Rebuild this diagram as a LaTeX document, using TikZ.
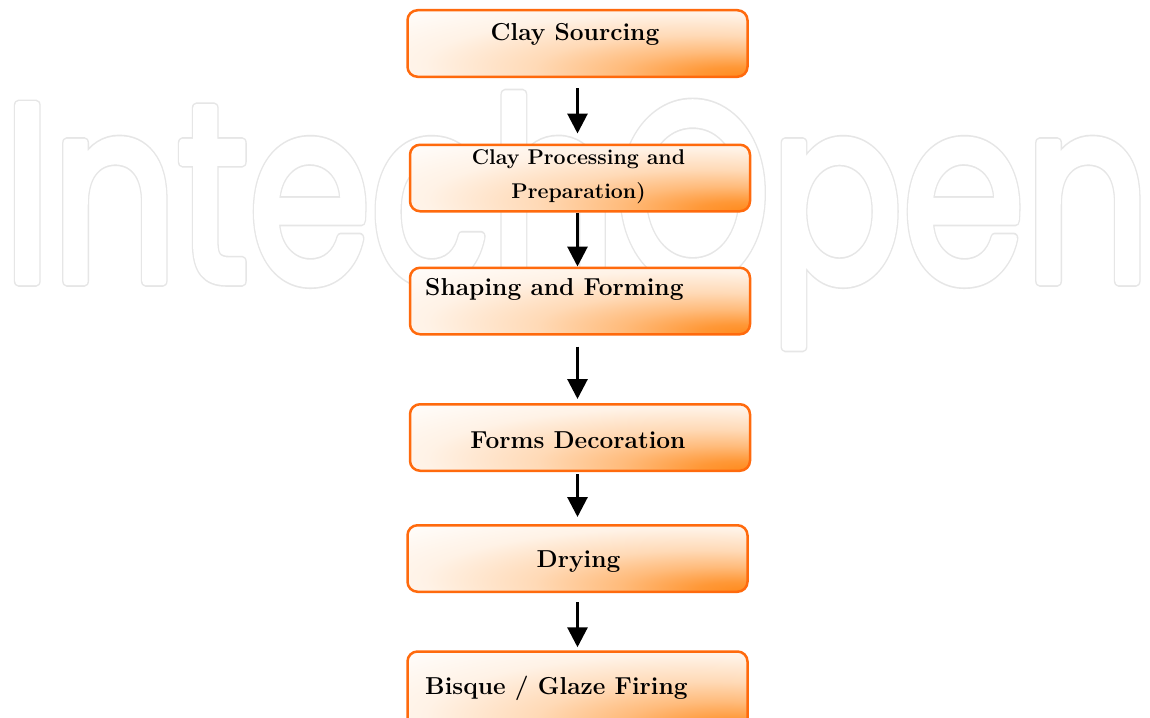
\documentclass[tikz,border=0pt]{standalone}
\usepackage{fontspec}
\newfontfamily\wmfont{Poppins}
\usetikzlibrary{arrows.meta,shadings,calc}
\definecolor{boxline}{HTML}{FF6A0D}
\definecolor{deeporange}{HTML}{FF8A1C}
\definecolor{wmgray}{HTML}{E6E6E6}
\pgfdeclareradialshading{boxshade}{\pgfpoint{25bp}{-25bp}}{%
  color(0bp)=(deeporange);
  color(6bp)=(deeporange!88!white);
  color(15bp)=(deeporange!58!white);
  color(25bp)=(deeporange!32!white);
  color(38bp)=(deeporange!11!white);
  color(50bp)=(deeporange!3!white);
  color(60bp)=(white);
  color(100bp)=(white)}
\newcommand{\lblfontsel}[1]{\fontsize{#1}{#1}\selectfont\bfseries\addfontfeatures{FakeBold=2}}
\tikzset{
  stagebox/.style={draw=boxline, line width=2.5pt, rounded corners=10pt,
    shading=boxshade, minimum width=340pt, minimum height=66.5pt, inner sep=0pt},
  lbl/.style={font=\lblfontsel{24.5}, inner sep=0pt},
  lblsmall/.style={font=\lblfontsel{21.3}, inner sep=0pt},
  arr/.style={draw=black, line width=3pt, -{Triangle[length=20pt,width=20pt]}},
  wm/.style={font=\wmfont\fontsize{252}{252}\selectfont, inner sep=0pt, anchor=base west}
}
\newcommand{\wmtext}{\resizebox{1147pt}{\height}{IntechOpen}}
\newcommand{\wmstroke}[1]{\special{pdf:code 2 Tr #1 w 1 j 1 J}\wmtext\special{pdf:code 0 Tr}}
\begin{document}
\begin{tikzpicture}[x=1pt,y=-1pt]
\useasboundingbox (0,0) rectangle (1150,717);
\fill[white] (0,0) rectangle (1150,717);
% watermark (outlined letters)
\node[wm, text=wmgray] (wmout) at (3,281) {\wmstroke{11.5}};
\node[wm, text=white] (wmin) at (3,281) {\wmstroke{8.2}};
% boxes
\node[stagebox] (b1) at (577.5,43.5) {};
\node[stagebox] (b2) at (580,178) {};
\node[stagebox] (b3) at (580,301) {};
\node[stagebox] (b4) at (580,437.5) {};
\node[stagebox] (b5) at (577.5,558.5) {};
\node[stagebox, minimum height=80pt] (b6) at (577.5,691.5) {};
% labels
\node[lbl, anchor=base] (t1) at (575,41) {Clay Sourcing};
\node[lblsmall, anchor=base] (t2a) at (578.5,164) {Clay Processing and};
\node[lblsmall, anchor=base] (t2b) at (578.5,198) {Preparation)};
\node[lbl, anchor=base west] (t3) at (425,295) {Shaping and Forming};
\node[lbl, anchor=base] (t4) at (578,448) {Forms Decoration};
\node[lbl, anchor=base] (t5) at (578.5,567) {Drying};
\node[lbl, anchor=base west] (t6) at (425,694) {Bisque / Glaze Firing};
% arrows
\coordinate (ax) at (577.5,0);
\draw[arr] ($(b1.south -| ax)+(0,10)$) -- ($(b2.north -| ax)+(0,-10)$);
\draw[arr] (b2.south -| ax) -- (b3.north -| ax);
\draw[arr] ($(b3.south -| ax)+(0,11)$) -- ($(b4.north -| ax)+(0,-4)$);
\draw[arr] ($(b4.south -| ax)+(0,2)$) -- ($(b5.north -| ax)+(0,-7)$);
\draw[arr] ($(b5.south -| ax)+(0,9)$) -- ($(b6.north -| ax)+(0,-3)$);
\end{tikzpicture}
\end{document}
